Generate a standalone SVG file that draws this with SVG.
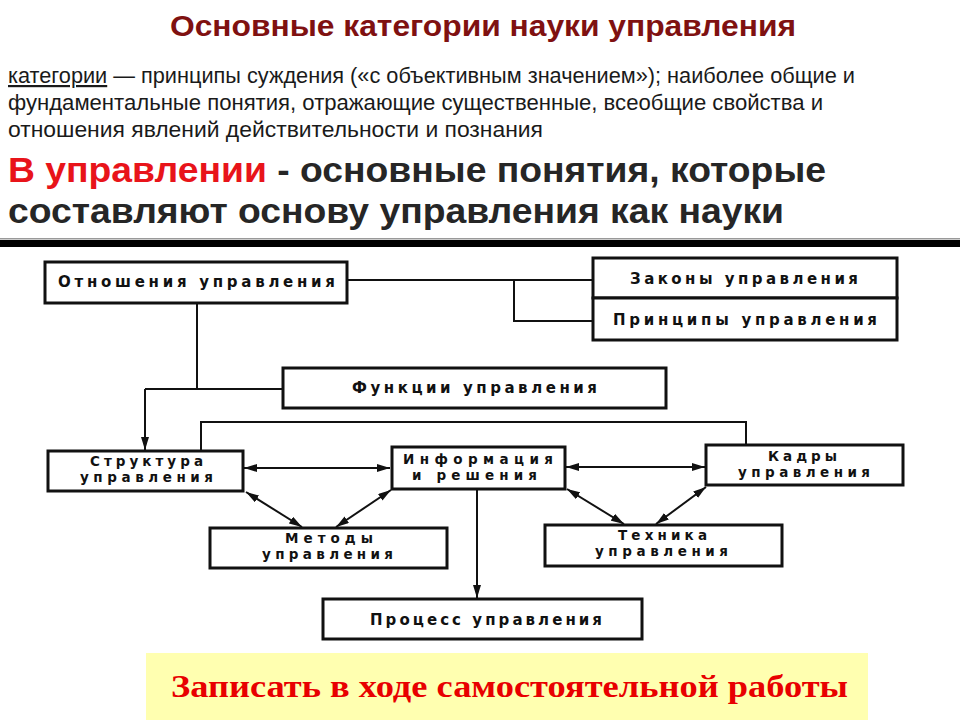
<svg xmlns="http://www.w3.org/2000/svg" width="960" height="720" viewBox="0 0 960 720">
<style>
.title{font-family:"Liberation Sans",Arial,sans-serif;font-weight:bold;font-size:29px;fill:#7f1111}
.body{font-family:"Liberation Sans",Arial,sans-serif;font-size:22px;fill:#1a1a1a}
.big{font-family:"Liberation Sans",Arial,sans-serif;font-weight:bold;font-size:35px;fill:#262626}
.red{fill:#e8141a}
.box{fill:#fff;stroke:#111;stroke-width:3}
.lbl{font-family:"DejaVu Sans",sans-serif;font-weight:bold;font-size:15px;fill:#111;text-anchor:middle}
.lbl2{font-family:"DejaVu Sans",sans-serif;font-weight:bold;font-size:13.5px;fill:#111;text-anchor:middle}
.con{fill:none;stroke:#111;stroke-width:2}
.note{font-family:"Liberation Serif","Times New Roman",serif;font-weight:bold;font-size:32px;fill:#e80000;text-anchor:middle}
</style>
<defs>
<marker id="ah" markerUnits="userSpaceOnUse" markerWidth="13" markerHeight="8" refX="13" refY="4" orient="auto-start-reverse">
<path d="M0,0 L13,4 L0,8 z" fill="#111"/>
</marker>
</defs>
<rect x="0" y="0" width="960" height="720" fill="#fff"/>

<g id="header">
<text class="title" x="170" y="36" textLength="626" lengthAdjust="spacingAndGlyphs">Основные категории науки управления</text>
<text class="body" x="8" y="83" textLength="847" lengthAdjust="spacingAndGlyphs"><tspan text-decoration="underline">категории</tspan> — принципы суждения («с объективным значением»); наиболее общие и</text>
<text class="body" x="8" y="110" textLength="815" lengthAdjust="spacingAndGlyphs">фундаментальные понятия, отражающие существенные, всеобщие свойства и</text>
<text class="body" x="8" y="137" textLength="535" lengthAdjust="spacingAndGlyphs">отношения явлений действительности и познания</text>
<text class="big" x="8" y="182" textLength="818" lengthAdjust="spacingAndGlyphs"><tspan class="red">В управлении</tspan> - основные понятия, которые</text>
<text class="big" x="8" y="223" textLength="776" lengthAdjust="spacingAndGlyphs">составляют основу управления как науки</text>
<rect x="0" y="238" width="960" height="1.5" fill="#999"/>
<rect x="0" y="240" width="960" height="7" fill="#000"/>
</g>

<g id="connectors">
<polyline class="con" points="347,280 593,280"/>
<polyline class="con" points="514,280 514,321 593,321"/>
<polyline class="con" points="197,303 197,389"/>
<polyline class="con" points="145,389 283,389"/>
<polyline class="con" points="145,389 145,450" marker-end="url(#ah)"/>
<polyline class="con" points="201,451 201,422 746,422 746,445"/>
<line class="con" x1="244" y1="468" x2="390" y2="468" marker-start="url(#ah)" marker-end="url(#ah)"/>
<line class="con" x1="566" y1="467" x2="705" y2="467" marker-start="url(#ah)" marker-end="url(#ah)"/>
<line class="con" x1="246" y1="492" x2="302" y2="527" marker-start="url(#ah)" marker-end="url(#ah)"/>
<line class="con" x1="391" y1="490" x2="336" y2="527" marker-start="url(#ah)" marker-end="url(#ah)"/>
<line class="con" x1="567" y1="489" x2="624" y2="524" marker-start="url(#ah)" marker-end="url(#ah)"/>
<line class="con" x1="706" y1="487" x2="656" y2="524" marker-start="url(#ah)" marker-end="url(#ah)"/>
<line class="con" x1="477" y1="489" x2="477" y2="598" marker-end="url(#ah)"/>
</g>

<g id="otnosheniya">
<rect class="box" x="45" y="262" width="302" height="41"/>
<text class="lbl" x="196.5" y="287" textLength="277">Отношения  управления</text>
</g>
<g id="zakony">
<rect class="box" x="593" y="258" width="304" height="40"/>
<text class="lbl" x="744" y="284" textLength="228">Законы  управления</text>
</g>
<g id="principy">
<rect class="box" x="593" y="298" width="304" height="42"/>
<text class="lbl" x="745" y="325" textLength="264">Принципы  управления</text>
</g>
<g id="funkcii">
<rect class="box" x="283" y="368" width="383" height="40"/>
<text class="lbl" x="474.5" y="393" textLength="245">Функции  управления</text>
</g>
<g id="struktura">
<rect class="box" x="48" y="451" width="195" height="40"/>
<text class="lbl2" x="146.5" y="466" textLength="113">Структура</text>
<text class="lbl2" x="146.5" y="482" textLength="133">управления</text>
</g>
<g id="informaciya">
<rect class="box" x="392" y="447" width="173" height="42"/>
<text class="lbl2" x="478" y="464" textLength="150">Информация</text>
<text class="lbl2" x="474.5" y="480" textLength="125">и решения</text>
</g>
<g id="kadry">
<rect class="box" x="706" y="445" width="197" height="40"/>
<text class="lbl2" x="802.5" y="461" textLength="69">Кадры</text>
<text class="lbl2" x="804" y="477" textLength="132">управления</text>
</g>
<g id="metody">
<rect class="box" x="210" y="528" width="237" height="40"/>
<text class="lbl2" x="329" y="543" textLength="88">Методы</text>
<text class="lbl2" x="327.5" y="559" textLength="131">управления</text>
</g>
<g id="tehnika">
<rect class="box" x="545" y="525" width="237" height="41"/>
<text class="lbl2" x="662.5" y="540" textLength="89">Техника</text>
<text class="lbl2" x="661.5" y="556" textLength="133">управления</text>
</g>
<g id="process">
<rect class="box" x="323" y="599" width="319" height="40"/>
<text class="lbl" x="486" y="625" textLength="232">Процесс  управления</text>
</g>

<g id="note">
<rect x="146" y="653" width="722" height="67" fill="#ffffb0"/>
<text class="note" x="509.5" y="697" textLength="677" lengthAdjust="spacingAndGlyphs">Записать в ходе самостоятельной работы</text>
</g>
</svg>
